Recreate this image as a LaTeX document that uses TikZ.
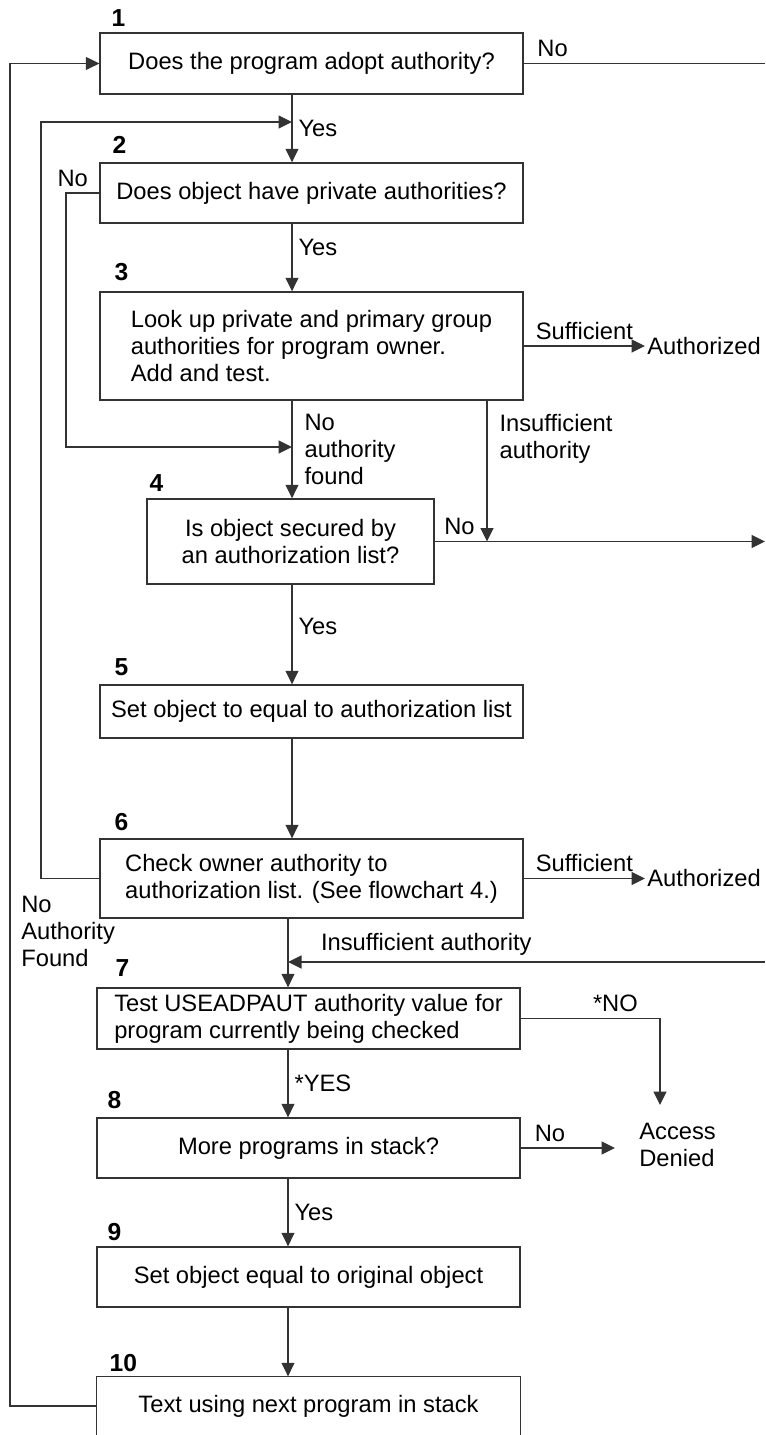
\documentclass[tikz,border=0pt]{standalone}
\usepackage{fontspec}
\setmainfont{Liberation Sans}
\usetikzlibrary{positioning,arrows.meta}

\tikzset{
    lbl/.style={font=\fontsize{13.5pt}{15.4pt}\selectfont},
    box/.style={lbl, draw=black!80, line width=0.8pt,
        minimum width=8.46cm, inner sep=0.1cm},
    num/.style={font=\fontsize{14pt}{15.4pt}\selectfont\bfseries, inner sep=0pt},
    wire/.style={draw=black!80, line width=0.8pt},
    arr/.style={wire, -{Triangle[length=0.27cm,width=0.26cm]}}
}

\begin{document}
\begin{tikzpicture}[x=0.02cm, y=-0.02cm]

    \useasboundingbox (0,0) rectangle (765,1435);

    \node[box, minimum height=1.22cm] (b1) at (311.5,63.5)
        {Does the program adopt authority?};
    \node[box, minimum height=1.2cm] (b2) at (311.5,193)
        {Does object have private authorities?};
    \node[box,
        minimum height=2.16cm,
        align=left
    ] (b3) at (311.5,346)
        {Look up private and primary group\\authorities for program owner.\\Add and test.};
    \node[box,
        minimum width=5.74cm,
        minimum height=1.7cm,
        align=center
    ] (b4) at (290.5,541.5)
        {Is object secured by\\an authorization list?};
    \node[box, minimum height=1.06cm] (b5) at (311.5,711.5)
        {Set object to equal to authorization list};
    \node[box,
        minimum height=1.58cm,
        align=left
    ] (b6) at (311.5,878.5)
        {Check owner authority to\\authorization list. (See flowchart 4.)};
    \node[box,
        minimum height=1.22cm,
        align=left
    ] (b7) at (308.5,1018.5)
        {Test USEADPAUT authority value for\\program currently being checked};
    \node[box, minimum height=1.2cm] (b8) at (308.5,1148)
        {More programs in stack?};
    \node[box, minimum height=1.2cm] (b9) at (308.5,1277)
        {Set object equal to original object};
    \node[box, draw=none, minimum height=1.16cm] (b10) at (308.5,1406)
        {Text using next program in stack};
    \draw[wire] (b10.south west) |- (b10.north east) -- (b10.south east);

    \node[num, above right=0.1cm and 0.24cm of b1.north west] (n1) {1};
    \node[num, above right=0.16cm and 0.26cm of b2.north west] (n2) {2};
    \node[num, above right=0.2cm and 0.3cm of b3.north west] (n3) {3};
    \node[num, above right=0.12cm and 0.06cm of b4.north west] (n4) {4};
    \node[num, above right=0.16cm and 0.3cm of b5.north west] (n5) {5};
    \node[num, above right=0.14cm and 0.3cm of b6.north west] (n6) {6};
    \node[num, above right=0.2cm and 0.38cm of b7.north west] (n7) {7};
    \node[num, above right=0.16cm and 0.22cm of b8.north west] (n8) {8};
    \node[num, above right=0.1cm and 0.22cm of b9.north west] (n9) {9};
    \node[num, above right=0.08cm and 0.26cm of b10.north west] (n10) {10};

    \node[lbl, anchor=west, inner sep=0.04cm] (okA) at (645,346) {Authorized};
    \node[lbl, anchor=west, inner sep=0.04cm] (okB) at (645,878.5) {Authorized};
    \node[lbl,
        align=left,
        anchor=north west,
        inner xsep=0.48cm,
        inner ysep=0.36cm
    ] (denied) at (615,1105) {Access\\Denied};
    \node[lbl,
        align=left,
        anchor=north west,
        inner sep=0pt
    ] (noauth) at (21,896) {No\\Authority\\Found};

    \coordinate (spineA) at (292,0);
    \coordinate (spineB) at (288,0);
    \coordinate (rimA) at (765,0);
    \coordinate (loopA) at (10,0);
    \coordinate (loopB) at (41,0);
    \coordinate (loopC) at (66,0);
    \coordinate (joinB) at (292,122);
    \coordinate (joinC) at (292,447);
    \coordinate (joinD) at (487,541.5);
    \coordinate (joinE) at (288,962);

    \draw[arr] (b1.south -| spineA) -- (b2.north -| spineA)
        node[lbl,midway,right]{Yes};
    \draw[arr] (b2.south -| spineA) -- (b3.north -| spineA)
        node[lbl,pos=0.35,right]{Yes};
    \draw[arr] (b3.south -| spineA) -- (b4.north -| spineA)
        node[lbl,midway,right,align=left,xshift=0.12cm]{No\\authority\\found};
    \draw[arr] (b4.south -| spineA) -- (b5.north -| spineA)
        node[lbl,pos=0.42,right]{Yes};
    \draw[arr] (b5.south -| spineA) -- (b6.north -| spineA);
    \draw[arr] (b6.south -| spineB) -- (b7.north -| spineB);
    \draw[arr] (b7.south -| spineB) -- (b8.north -| spineB)
        node[lbl,midway,right]{*YES};
    \draw[arr] (b8.south -| spineB) -- (b9.north -| spineB)
        node[lbl,midway,right]{Yes};
    \draw[arr] (b9.south -| spineB) -- (b10.north -| spineB);

    \draw[wire] (b1.east) -- (b1.east -| rimA)
        node[lbl,pos=0.12,above]{No};
    \draw[arr] (b3.east) -- (okA.west)
        node[lbl,midway,above]{Sufficient};
    \draw[arr] (b6.east) -- (okB.west)
        node[lbl,midway,above]{Sufficient};
    \draw[arr] (b3.south -| joinD) -- (joinD)
        node[lbl,pos=0.27,right,align=left,xshift=0.12cm]{Insufficient\\authority};
    \draw[arr] (b4.east) -- (b4.east -| rimA)
        node[lbl,pos=0.075,above]{No};
    \draw[arr] (joinE -| rimA) -- (joinE)
        node[lbl,pos=0.71,above]{Insufficient authority};
    \draw[arr] (b7.east) -| ([xshift=0.9cm]denied.north west)
        node[lbl,pos=0.34,above]{*NO};
    \draw[arr] (b8.east) -- (b8.east -| denied.west)
        node[lbl,pos=0.31,above]{No};

    \draw[arr] (b10.west) -| (loopA |- b1.west) -- (b1.west);
    \draw[arr] (b6.west) -| (loopB |- joinB) -- (joinB);
    \draw[arr] (b2.west) -| (loopC |- joinC)
        node[lbl,pos=0.4,above]{No} -- (joinC);

\end{tikzpicture}
\end{document}
